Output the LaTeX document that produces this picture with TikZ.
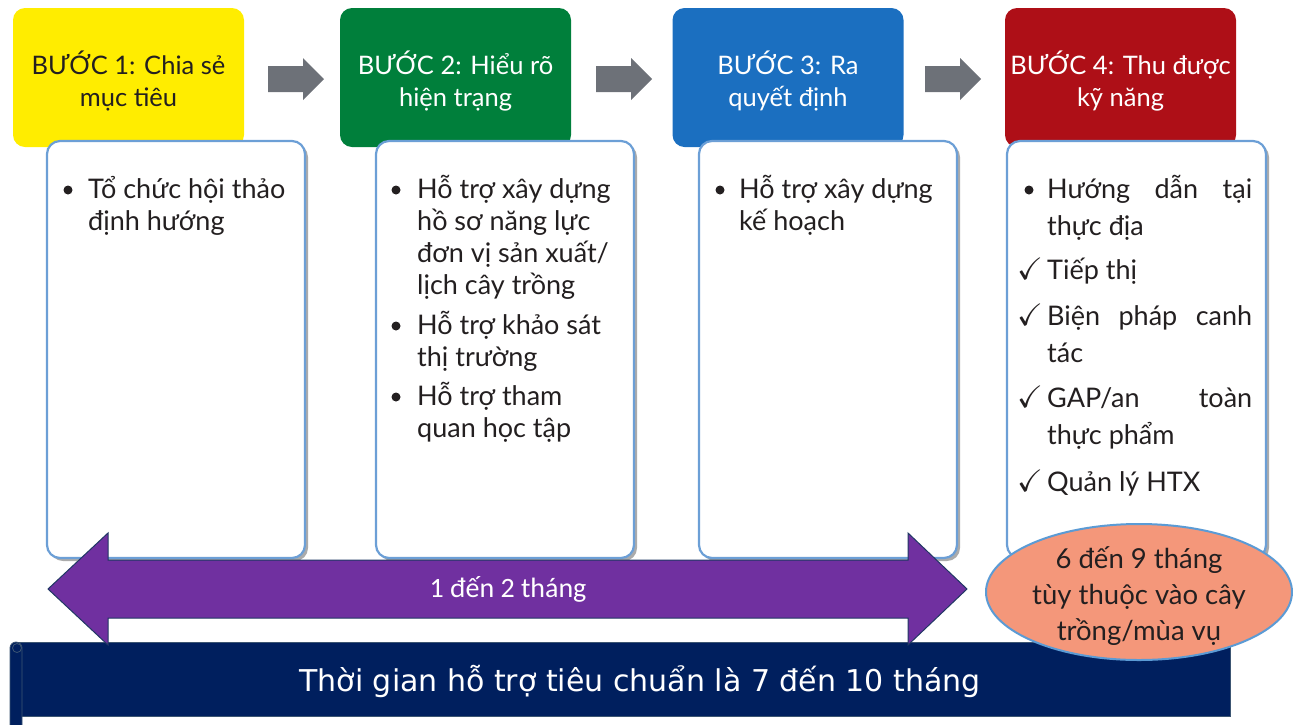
\documentclass[tikz,border=0pt]{standalone}
\usepackage{amssymb}
\usepackage{fontspec}
\setmainfont{Lato}
\newfontfamily\calfont{Carlito}
\newfontfamily\dvfont{DejaVu Sans}
\usetikzlibrary{shapes.geometric,shadows}

\definecolor{stepyellow}{HTML}{FFED00}
\definecolor{stepgreen}{HTML}{007F3B}
\definecolor{stepblue}{HTML}{1B6FC0}
\definecolor{stepred}{HTML}{AE0F17}
\definecolor{arrowgray}{HTML}{6D7178}
\definecolor{boxblue}{HTML}{6C9FD6}
\definecolor{shadowgray}{HTML}{ABABAB}
\definecolor{spanpurple}{HTML}{7030A0}
\definecolor{spanline}{HTML}{203864}
\definecolor{navy}{HTML}{001F5E}
\definecolor{bannerline}{HTML}{3C5572}
\definecolor{salmon}{HTML}{F4977A}
\definecolor{ovalline}{HTML}{5B9BD5}
\definecolor{textdark}{HTML}{231F20}

\begin{document}
\begin{tikzpicture}[x=1pt,y=-1pt,
  headbox/.style={rounded corners=12pt, minimum width=231pt, minimum height=139pt, inner sep=0pt},
  headtext/.style={align=center, font=\fontsize{25.5}{32}\selectfont, inner sep=0pt},
  contentbox/.style={draw=boxblue, line width=2.2pt, fill=white, rounded corners=13pt,
    minimum width=258pt, minimum height=417pt, inner sep=0pt,
    drop shadow={shadow xshift=3pt, shadow yshift=-3pt, fill=shadowgray, opacity=1}},
  nextarrow/.style={fill=arrowgray},
  dot/.style={circle, fill=textdark, minimum size=9pt, inner sep=0pt},
  itemtext/.style={anchor=north west, inner sep=0pt, text=textdark, font=\fontsize{27}{32}\selectfont},
  widetext/.style={itemtext, font=\fontsize{27}{37}\selectfont},
  tick/.style={anchor=base west, inner sep=0pt, text=textdark, font=\fontsize{31}{31}\selectfont},
]
\useasboundingbox (0,0) rectangle (1293,724);

% step headers
\node[headbox, fill=stepyellow] (h1) at (128.5,77.5) {};
\node[headbox, fill=stepgreen]  (h2) at (455.5,77.5) {};
\node[headbox, fill=stepblue]   (h3) at (788,77.5) {};
\node[headbox, fill=stepred]    (h4) at (1120.5,77.5) {};
\node[headtext, text=textdark] (h1t) at (128.5,81) {BƯỚC 1: Chia sẻ\\mục tiêu};
\node[headtext, text=white]    (h2t) at (455.5,81) {BƯỚC 2: Hiểu rõ\\hiện trạng};
\node[headtext, text=white]    (h3t) at (788,81)   {BƯỚC 3: Ra\\quyết định};
\node[headtext, text=white]    (h4t) at (1120.5,81) {BƯỚC 4: Thu được\\kỹ năng};

% block arrows between the steps
\foreach \dx in {0,328,657}{
  \fill[nextarrow] (268+\dx,66) -- (303+\dx,66) -- (303+\dx,58) -- (324+\dx,79)
    -- (303+\dx,100) -- (303+\dx,92) -- (268+\dx,92) -- cycle;
}

% content panels
\node[contentbox] (c1) at (176,349.5) {};
\node[contentbox] (c2) at (505,349.5) {};
\node[contentbox] (c3) at (828,349.5) {};
\node[contentbox, minimum width=259pt] (c4) at (1136.5,349.5) {};

% panel 1
\node[dot] (b11) at (68,190) {};
\node[itemtext] (t11) at (88,170) {\parbox[t]{300pt}{\rule{0pt}{28pt}Tổ chức hội thảo\\định hướng}};

% panel 2
\node[dot] (b21) at (396,190) {};
\node[itemtext] (t21) at (417,170) {\parbox[t]{300pt}{\rule{0pt}{28pt}Hỗ trợ xây dựng\\hồ sơ năng lực\\đơn vị sản xuất/\\lịch cây trồng}};
\node[dot] (b22) at (396,326) {};
\node[itemtext] (t22) at (417,306) {\parbox[t]{300pt}{\rule{0pt}{28pt}Hỗ trợ khảo sát\\thị trường}};
\node[dot] (b23) at (396,397) {};
\node[itemtext] (t23) at (417,377) {\parbox[t]{300pt}{\rule{0pt}{28pt}Hỗ trợ tham\\quan học tập}};

% panel 3
\node[dot] (b31) at (720,190) {};
\node[itemtext] (t31) at (739,170) {\parbox[t]{300pt}{\rule{0pt}{28pt}Hỗ trợ xây dựng\\kế hoạch}};

% panel 4
\node[dot] (b41) at (1029,190) {};
\node[widetext] (t41) at (1047,170) {\parbox[t]{300pt}{\rule{0pt}{28pt}\makebox[205pt][s]{Hướng dẫn tại}\\thực địa}};
\node[tick] (k42) at (1017,279) {$\checkmark$};
\node[widetext] (t42) at (1047,251) {\parbox[t]{300pt}{\rule{0pt}{28pt}Tiếp thị}};
\node[tick] (k43) at (1017,325) {$\checkmark$};
\node[widetext] (t43) at (1047,297) {\parbox[t]{300pt}{\rule{0pt}{28pt}\makebox[205pt][s]{Biện pháp canh}\\tác}};
\node[tick] (k44) at (1017,407) {$\checkmark$};
\node[widetext] (t44) at (1047,379) {\parbox[t]{300pt}{\rule{0pt}{28pt}\makebox[205pt][s]{GAP/an toàn}\\thực phẩm}};
\node[tick] (k45) at (1017,491) {$\checkmark$};
\node[widetext] (t45) at (1047,463) {\parbox[t]{300pt}{\rule{0pt}{28pt}Quản lý HTX}};

% banner scroll
\fill[navy] (16,642) -- (1230,642) -- (1230,716) -- (16,716) -- cycle;
\draw[bannerline, line width=0.8pt] (16,642) -- (1230,642) -- (1230,716) -- (22,716);
\path[fill=navy, draw=bannerline, line width=0.8pt] (10,730) -- (10,648) arc (-180:0:6) -- (22,730);
\draw[bannerline, line width=0.8pt] (17,648) circle (4.5);
\node[inner sep=0pt, anchor=base, text=white, font=\dvfont\fontsize{30}{34}\selectfont] (bt) at (640,691)
  {Thời gian hỗ trợ tiêu chuẩn là 7 đến 10 tháng};

% two-headed span arrow
\path[fill=spanpurple, draw=spanline, line width=1pt]
  (48,589) -- (108,533) -- (108,560) -- (908,560) -- (908,533) -- (967,589)
  -- (908,645) -- (908,618) -- (108,618) -- (108,645) -- cycle;
\node[inner sep=0pt, text=white, font=\calfont\fontsize{28}{30}\selectfont] (span) at (508,589) {1 đến 2 tháng};

% duration oval
\node[ellipse, fill=salmon, draw=ovalline, line width=2pt, minimum width=306pt, minimum height=136pt,
  inner sep=0pt] (oval) at (1139,592) {};
\node[inner sep=0pt, align=center, text=textdark, font=\fontsize{27.5}{36}\selectfont] (ovaltext) at (1139,596)
  {6 đến 9 tháng\\tùy thuộc vào cây\\trồng/mùa vụ};
\end{tikzpicture}
\end{document}
